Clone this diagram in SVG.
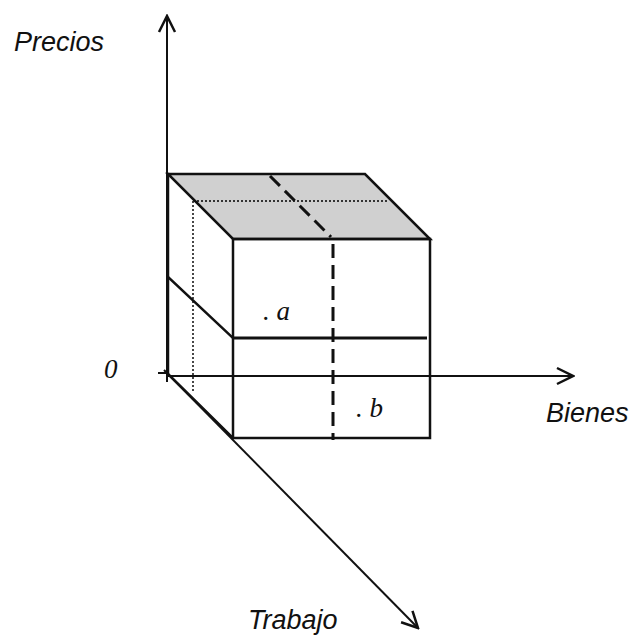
<svg xmlns="http://www.w3.org/2000/svg" width="635" height="636" viewBox="0 0 635 636">
<defs>
<style>
.edge{stroke:#111;stroke-width:2.5;fill:none;stroke-linecap:square}
.thick{stroke:#111;stroke-width:3.2;fill:none}
.axis{stroke:#111;stroke-width:2;fill:none}
.dash{stroke:#111;stroke-width:3;fill:none;stroke-dasharray:14 7}
.dot{stroke:#333;stroke-width:1.8;fill:none;stroke-dasharray:2 2}
.lbl{font-family:"Liberation Sans",Arial,sans-serif;font-style:italic;font-size:27px;fill:#111}
.pt{font-family:"Liberation Serif","Times New Roman",serif;font-style:italic;font-size:27px;fill:#111}
</style>
<marker id="arr" viewBox="0 0 20 20" refX="18" refY="10" markerWidth="20" markerHeight="20" markerUnits="userSpaceOnUse" orient="auto">
<path d="M2,2 L18,10 L2,18" fill="none" stroke="#111" stroke-width="2.5"/>
</marker>
</defs>
<rect width="635" height="636" fill="#fff"/>
<g id="cube">
<polygon points="168,174 365,174 430,239 233,239" fill="#d0d0d0"/>
<line class="dot" x1="193" y1="201" x2="388" y2="201"/>
<line class="dot" x1="193" y1="201" x2="193" y2="392"/>
<line class="dash" x1="270" y1="176" x2="331" y2="237"/>
<line class="dash" x1="333" y1="244" x2="333" y2="440"/>
<polygon class="edge" points="168,174 365,174 430,239 233,239"/>
<rect class="edge" x="233" y="239" width="197" height="199"/>
<line class="edge" x1="168" y1="174" x2="168" y2="374"/>
<line class="edge" x1="168" y1="277" x2="233" y2="338"/>
<line class="thick" x1="233" y1="338" x2="427" y2="338"/>
</g>
<g id="connectors">
<line class="axis" x1="167" y1="382" x2="167" y2="16" marker-end="url(#arr)"/>
<line class="axis" x1="167" y1="376" x2="573" y2="376" marker-end="url(#arr)"/>
<line class="axis" x1="158" y1="373" x2="167" y2="373"/>
<line class="axis" x1="164" y1="370" x2="418" y2="628" marker-end="url(#arr)"/>
<line class="edge" x1="168" y1="374" x2="233" y2="438"/>
</g>
<g id="labels">
<text class="lbl" x="14" y="51">Precios</text>
<text class="lbl" x="546" y="422">Bienes</text>
<text class="lbl" x="248" y="629">Trabajo</text>
<text class="pt" x="104" y="378">0</text>
<text class="pt" x="263" y="320">. a</text>
<text class="pt" x="356" y="417">. b</text>
</g>
</svg>
